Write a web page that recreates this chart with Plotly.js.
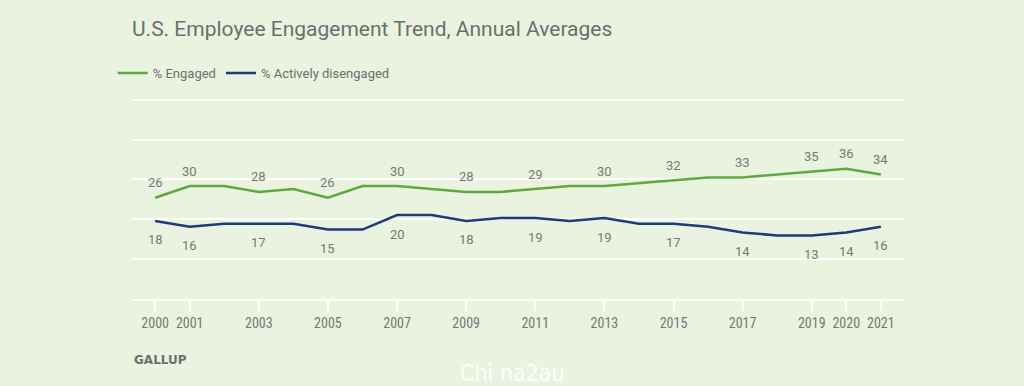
<!DOCTYPE html>
<html>
<head>
<meta charset="utf-8">
<script src="https://cdn.plot.ly/plotly-3.0.1.min.js"></script>
<style>
html,body{margin:0;padding:0;background:#eaf3df;}
#chart{width:1024px;height:386px;}
</style>
</head>
<body>
<div id="chart"></div>
<script>
// ---- Data ----
const years = [2000,2001,2002,2003,2004,2005,2006,2007,2008,2009,2010,2011,2012,2013,2014,2015,2016,2017,2018,2019,2020,2021];
const engaged = [26,30,30,28,29,26,30,30,29,28,28,29,30,30,31,32,33,33,34,35,36,34];
const disengaged = [18,16,17,17,17,15,15,20,20,18,19,19,18,19,17,17,16,14,13,13,14,16];
const labelYears = [2000,2001,2003,2005,2007,2009,2011,2013,2015,2017,2019,2020,2021];
const tickYears = [2000,2001,2003,2005,2007,2009,2011,2013,2015,2017,2019,2020,2021];
const tickLabels = tickYears.map(String);
const seriesNames = ['% Engaged','% Actively disengaged'];
const titleText = 'U.S. Employee Engagement Trend, Annual Averages';
const sourceText = 'GALLUP';
const watermarkText = 'Chi na2au';

const green = '#5fa83f';
const blue = '#1d3a7c';
const grey = '#6e6e6e';
const font = 'Roboto, "Open Sans", sans-serif';

const traces = [
  {x: years, y: engaged, name: seriesNames[0], type: 'scatter', mode: 'lines',
   line: {color: green, width: 2.5}, hoverinfo: 'x+y'},
  {x: years, y: disengaged, name: seriesNames[1], type: 'scatter', mode: 'lines',
   line: {color: blue, width: 2.5}, hoverinfo: 'x+y'}
];

const annotations = [];
labelYears.forEach(function (yr) {
  const i = years.indexOf(yr);
  annotations.push({x: yr, y: engaged[i], xref: 'x', yref: 'y', text: String(engaged[i]),
    showarrow: false, yshift: 15, font: {family: font, size: 13, color: '#777'}});
  annotations.push({x: yr, y: disengaged[i], xref: 'x', yref: 'y', text: String(disengaged[i]),
    showarrow: false, yshift: -19, font: {family: font, size: 13, color: '#777'}});
});
annotations.push({x: 0, y: (386 - 87 - 360) / 204, xref: 'paper', yref: 'paper', text: '<b>' + sourceText + '</b>',
  showarrow: false, xanchor: 'left', yanchor: 'middle',
  font: {family: '"DejaVu Sans", sans-serif', size: 12, color: grey}});
annotations.push({x: (512 - 132) / 772, y: (386 - 87 - 373) / 204, xref: 'paper', yref: 'paper',
  text: watermarkText, showarrow: false, xanchor: 'center', yanchor: 'middle',
  font: {family: '"Liberation Sans Narrow", "DejaVu Sans Condensed", sans-serif', size: 23, color: 'rgba(255,255,255,0.9)'}});

const layout = {
  width: 1024, height: 386,
  paper_bgcolor: '#eaf3df', plot_bgcolor: '#eaf3df',
  margin: {l: 132, r: 120, t: 95, b: 87},
  title: {text: titleText, x: 132/1024, xanchor: 'left', y: 1 - 29/386, yanchor: 'middle',
    font: {family: font, size: 21, color: grey}},
  showlegend: true,
  legend: {orientation: 'h', x: -0.025, xanchor: 'left', y: 1 + (95 - 73)/204, yanchor: 'middle',
    font: {family: font, size: 13, color: grey}, bgcolor: 'rgba(0,0,0,0)', itemwidth: 30},
  xaxis: {range: [1999.33, 2021.67], tickmode: 'array', tickvals: tickYears, ticktext: tickLabels,
    showgrid: false, zeroline: false, showline: true, linecolor: '#ffffff', linewidth: 2,
    ticks: 'outside', ticklen: 10, tickwidth: 2, tickcolor: '#ffffff',
    tickfont: {family: '"Liberation Sans Narrow", "Roboto Condensed", Roboto, sans-serif', size: 14, color: '#777'},
    fixedrange: true},
  yaxis: {range: [-8.93, 61.41], tick0: -8.93, dtick: 13.74, showticklabels: false,
    showgrid: true, gridcolor: '#ffffff', gridwidth: 2, zeroline: false, showline: false, ticks: '',
    fixedrange: true},
  annotations: annotations
};

Plotly.newPlot('chart', traces, layout, {displayModeBar: false, staticPlot: true});
</script>
</body>
</html>
